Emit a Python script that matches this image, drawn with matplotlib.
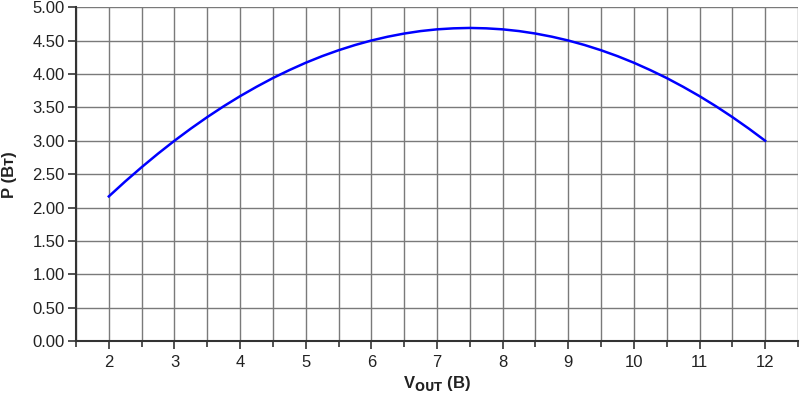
import matplotlib
matplotlib.use("Agg")
import matplotlib.pyplot as plt
from matplotlib.ticker import MultipleLocator

plt.rcParams['font.family'] = ['Liberation Sans', 'DejaVu Sans']

# Data
v_out = [2.0, 2.25, 2.5, 2.75, 3.0, 3.25, 3.5, 3.75, 4.0, 4.25, 4.5, 4.75,
         5.0, 5.25, 5.5, 5.75, 6.0, 6.25, 6.5, 6.75, 7.0, 7.25, 7.5, 7.75,
         8.0, 8.25, 8.5, 8.75, 9.0, 9.25, 9.5, 9.75, 10.0, 10.25, 10.5, 10.75,
         11.0, 11.25, 11.5, 11.75, 12.0]
power = [2.167, 2.391, 2.604, 2.807, 3.000, 3.182, 3.354, 3.516, 3.667, 3.807,
         3.938, 4.057, 4.167, 4.266, 4.354, 4.432, 4.500, 4.557, 4.604, 4.641,
         4.667, 4.682, 4.688, 4.682, 4.667, 4.641, 4.604, 4.557, 4.500, 4.432,
         4.354, 4.266, 4.167, 4.057, 3.938, 3.807, 3.667, 3.516, 3.354, 3.182,
         3.000]
x_ticks = [2, 3, 4, 5, 6, 7, 8, 9, 10, 11, 12]
y_ticks = [0.0, 0.5, 1.0, 1.5, 2.0, 2.5, 3.0, 3.5, 4.0, 4.5, 5.0]

fig = plt.figure(figsize=(8.0, 3.94), dpi=100)
ax = fig.add_axes([0.095, 0.134, 0.9025, 0.848])

ax.plot(v_out, power, color='#0000ff', lw=1.8, zorder=3, clip_on=False,
        solid_joinstyle='round')

ax.set_xlim(1.5, 12.5)
ax.set_ylim(0, 5)
ax.set_xticks(x_ticks)
ax.xaxis.set_minor_locator(MultipleLocator(0.5))
ax.set_yticks(y_ticks)
ax.set_yticklabels([f"{v:.2f}" for v in y_ticks])

ax.grid(True, which='both', axis='x', color='#7a7a7a', lw=1.0)
ax.grid(True, which='major', axis='y', color='#7a7a7a', lw=1.0)
ax.set_axisbelow(True)

for s in ['top', 'right']:
    ax.spines[s].set_visible(False)
for s in ['left', 'bottom']:
    ax.spines[s].set_color('#333333')
    ax.spines[s].set_linewidth(1.5)

ax.tick_params(axis='both', which='both', direction='out', color='#333333',
               width=1.2, labelsize=12, labelcolor='#222222')
ax.tick_params(axis='x', which='major', length=6, pad=4)
ax.tick_params(axis='x', which='minor', length=4)
ax.tick_params(axis='y', which='major', length=6, pad=2)

ax.set_xlabel(r'V$_{\mathbf{OUT}}$ (В)', fontsize=12, fontweight='bold', color='#222222', labelpad=3)
ax.set_ylabel('P (Вт)', fontsize=12, fontweight='bold', color='#222222', labelpad=11)

fig.savefig('out.png', dpi=100)
